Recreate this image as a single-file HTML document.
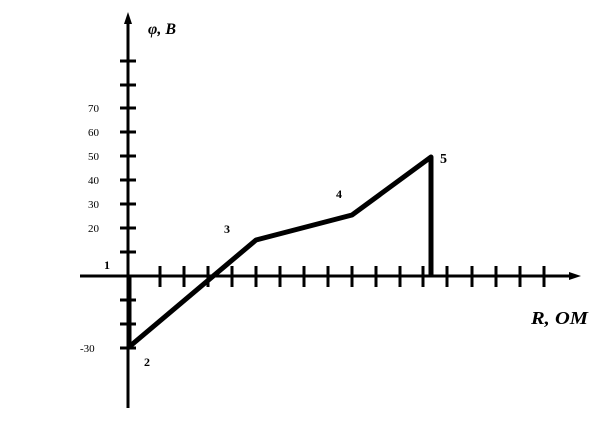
<!DOCTYPE html>
<html><head><meta charset="utf-8"><style>
html,body{margin:0;padding:0;background:#fff;width:602px;height:444px;overflow:hidden}
svg{display:block}
text{font-family:"Liberation Serif",serif;fill:#000}
</style></head><body>
<svg width="602" height="444" viewBox="0 0 602 444" xmlns="http://www.w3.org/2000/svg">
<g stroke="#000" stroke-width="3" fill="none">
<line x1="128" y1="22" x2="128" y2="408"/>
<line x1="80" y1="276" x2="572" y2="276"/>
<line x1="120" y1="61" x2="136" y2="61"/>
<line x1="120" y1="85" x2="136" y2="85"/>
<line x1="120" y1="108" x2="136" y2="108"/>
<line x1="120" y1="132" x2="136" y2="132"/>
<line x1="120" y1="156" x2="136" y2="156"/>
<line x1="120" y1="180" x2="136" y2="180"/>
<line x1="120" y1="204" x2="136" y2="204"/>
<line x1="120" y1="228" x2="136" y2="228"/>
<line x1="120" y1="252" x2="136" y2="252"/>
<line x1="120" y1="300" x2="136" y2="300"/>
<line x1="120" y1="324" x2="136" y2="324"/>
<line x1="120" y1="348" x2="136" y2="348"/>
<line x1="160" y1="266" x2="160" y2="287"/>
<line x1="184" y1="266" x2="184" y2="287"/>
<line x1="208" y1="266" x2="208" y2="287"/>
<line x1="232" y1="266" x2="232" y2="287"/>
<line x1="256" y1="266" x2="256" y2="287"/>
<line x1="280" y1="266" x2="280" y2="287"/>
<line x1="304" y1="266" x2="304" y2="287"/>
<line x1="328" y1="266" x2="328" y2="287"/>
<line x1="352" y1="266" x2="352" y2="287"/>
<line x1="376" y1="266" x2="376" y2="287"/>
<line x1="400" y1="266" x2="400" y2="287"/>
<line x1="423" y1="266" x2="423" y2="287"/>
<line x1="447" y1="266" x2="447" y2="287"/>
<line x1="472" y1="266" x2="472" y2="287"/>
<line x1="496" y1="266" x2="496" y2="287"/>
<line x1="520" y1="266" x2="520" y2="287"/>
<line x1="544" y1="266" x2="544" y2="287"/>
</g>
<polygon points="128,12 124,24 132,24" fill="#000"/>
<polygon points="581,276 569,272 569,280" fill="#000"/>
<polyline points="129,276 129,347 256,240 352,215 431,157 431,276" stroke="#000" stroke-width="5" fill="none" stroke-linejoin="round"/>
<g font-size="11">
<text x="88" y="112">70</text>
<text x="88" y="136">60</text>
<text x="88" y="160">50</text>
<text x="88" y="184">40</text>
<text x="88" y="208">30</text>
<text x="88" y="232">20</text>
<text x="80" y="352">-30</text>
</g>
<g font-size="12" font-weight="bold">
<text x="104" y="269">1</text>
<text x="144" y="366">2</text>
<text x="224" y="233">3</text>
<text x="336" y="198">4</text>
</g>
<text x="440" y="163" font-size="14" font-weight="bold">5</text>
<text x="148" y="34" font-size="16" font-weight="bold" font-style="italic">φ, B</text>
<text x="531" y="324" font-size="18" font-weight="bold" font-style="italic" textLength="57" lengthAdjust="spacingAndGlyphs">R, OM</text>
</svg>
</body></html>
